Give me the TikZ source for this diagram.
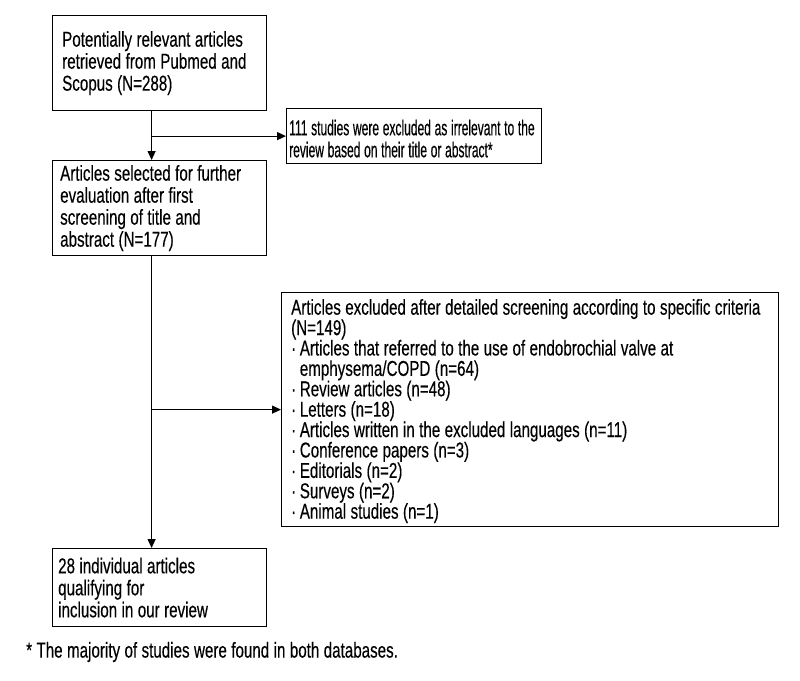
\documentclass[tikz,border=0pt]{standalone}
\usepackage{fontspec}
\setmainfont[FakeStretch=0.705,WordSpace=1.05,FakeBold=0.3]{Liberation Sans}
\newfontfamily\narrowfnt[FakeStretch=0.56,WordSpace=1.1,FakeBold=0.3]{Liberation Sans}
\usetikzlibrary{arrows.meta}
\begin{document}
\begin{tikzpicture}[x=1pt,y=-1pt,
  box/.style={draw,line width=1.2pt,anchor=north west,inner sep=0pt},
  txt/.style={anchor=west,align=left,inner sep=0pt,font=\fontsize{21.5}{22}\selectfont},
  conn/.style={line width=1.2pt,-{Triangle[length=9pt,width=8pt]}}]
\useasboundingbox (0,0) rectangle (800,680);
\node[box,minimum width=214pt,minimum height=95pt] (b1) at (52,15) {};
\node[txt] (t1) at ([xshift=10pt]b1.west)
  {Potentially relevant articles\\retrieved from Pubmed and\\Scopus (N=288)};
\node[box,minimum width=214pt,minimum height=95pt] (b2) at (52,160) {};
\node[txt] (t2) at ([xshift=8pt]b2.west)
  {Articles selected for further\\evaluation after first\\screening of title and\\abstract (N=177)};
\node[box,minimum width=255pt,minimum height=55pt] (b3) at (286,108) {};
\node[txt,font=\narrowfnt\fontsize{21.5}{22}\selectfont] (t3) at ([xshift=3pt,yshift=-2.5pt]b3.west)
  {111 studies were excluded as irrelevant to the\\review based on their title or abstract*};
\node[box,minimum width=497pt,minimum height=234pt] (b4) at (281,292) {};
\node[txt,font=\fontsize{21.5}{20.4}\selectfont] (t4) at ([xshift=10pt,yshift=-1.5pt]b4.west)
  {Articles excluded after detailed screening according to specific criteria\\
   (N=149)\\
   ·\,Articles that referred to the use of endobrochial valve at\\
   \phantom{·\,}emphysema/COPD (n=64)\\
   ·\,Review articles (n=48)\\
   ·\,Letters (n=18)\\
   ·\,Articles written in the excluded languages (n=11)\\
   ·\,Conference papers (n=3)\\
   ·\,Editorials (n=2)\\
   ·\,Surveys (n=2)\\
   ·\,Animal studies (n=1)};
\node[box,minimum width=214pt,minimum height=78pt] (b5) at (52,548) {};
\node[txt] (t5) at ([xshift=6pt]b5.west)
  {28 individual articles\\qualifying for\\inclusion in our review};
\node[txt] (fn) at (26,652)
  {* The majority of studies were found in both databases.};
\draw[conn] ([xshift=-8pt]b1.south) -- ([xshift=-8pt]b2.north);
\draw[conn] ([xshift=-8pt]b1.south |- b3.west) -- (b3.west);
\draw[conn] ([xshift=-8pt]b2.south) -- ([xshift=-8pt]b5.north);
\draw[conn] ([xshift=-8pt]b2.south |- b4.west) -- (b4.west);
\end{tikzpicture}
\end{document}
